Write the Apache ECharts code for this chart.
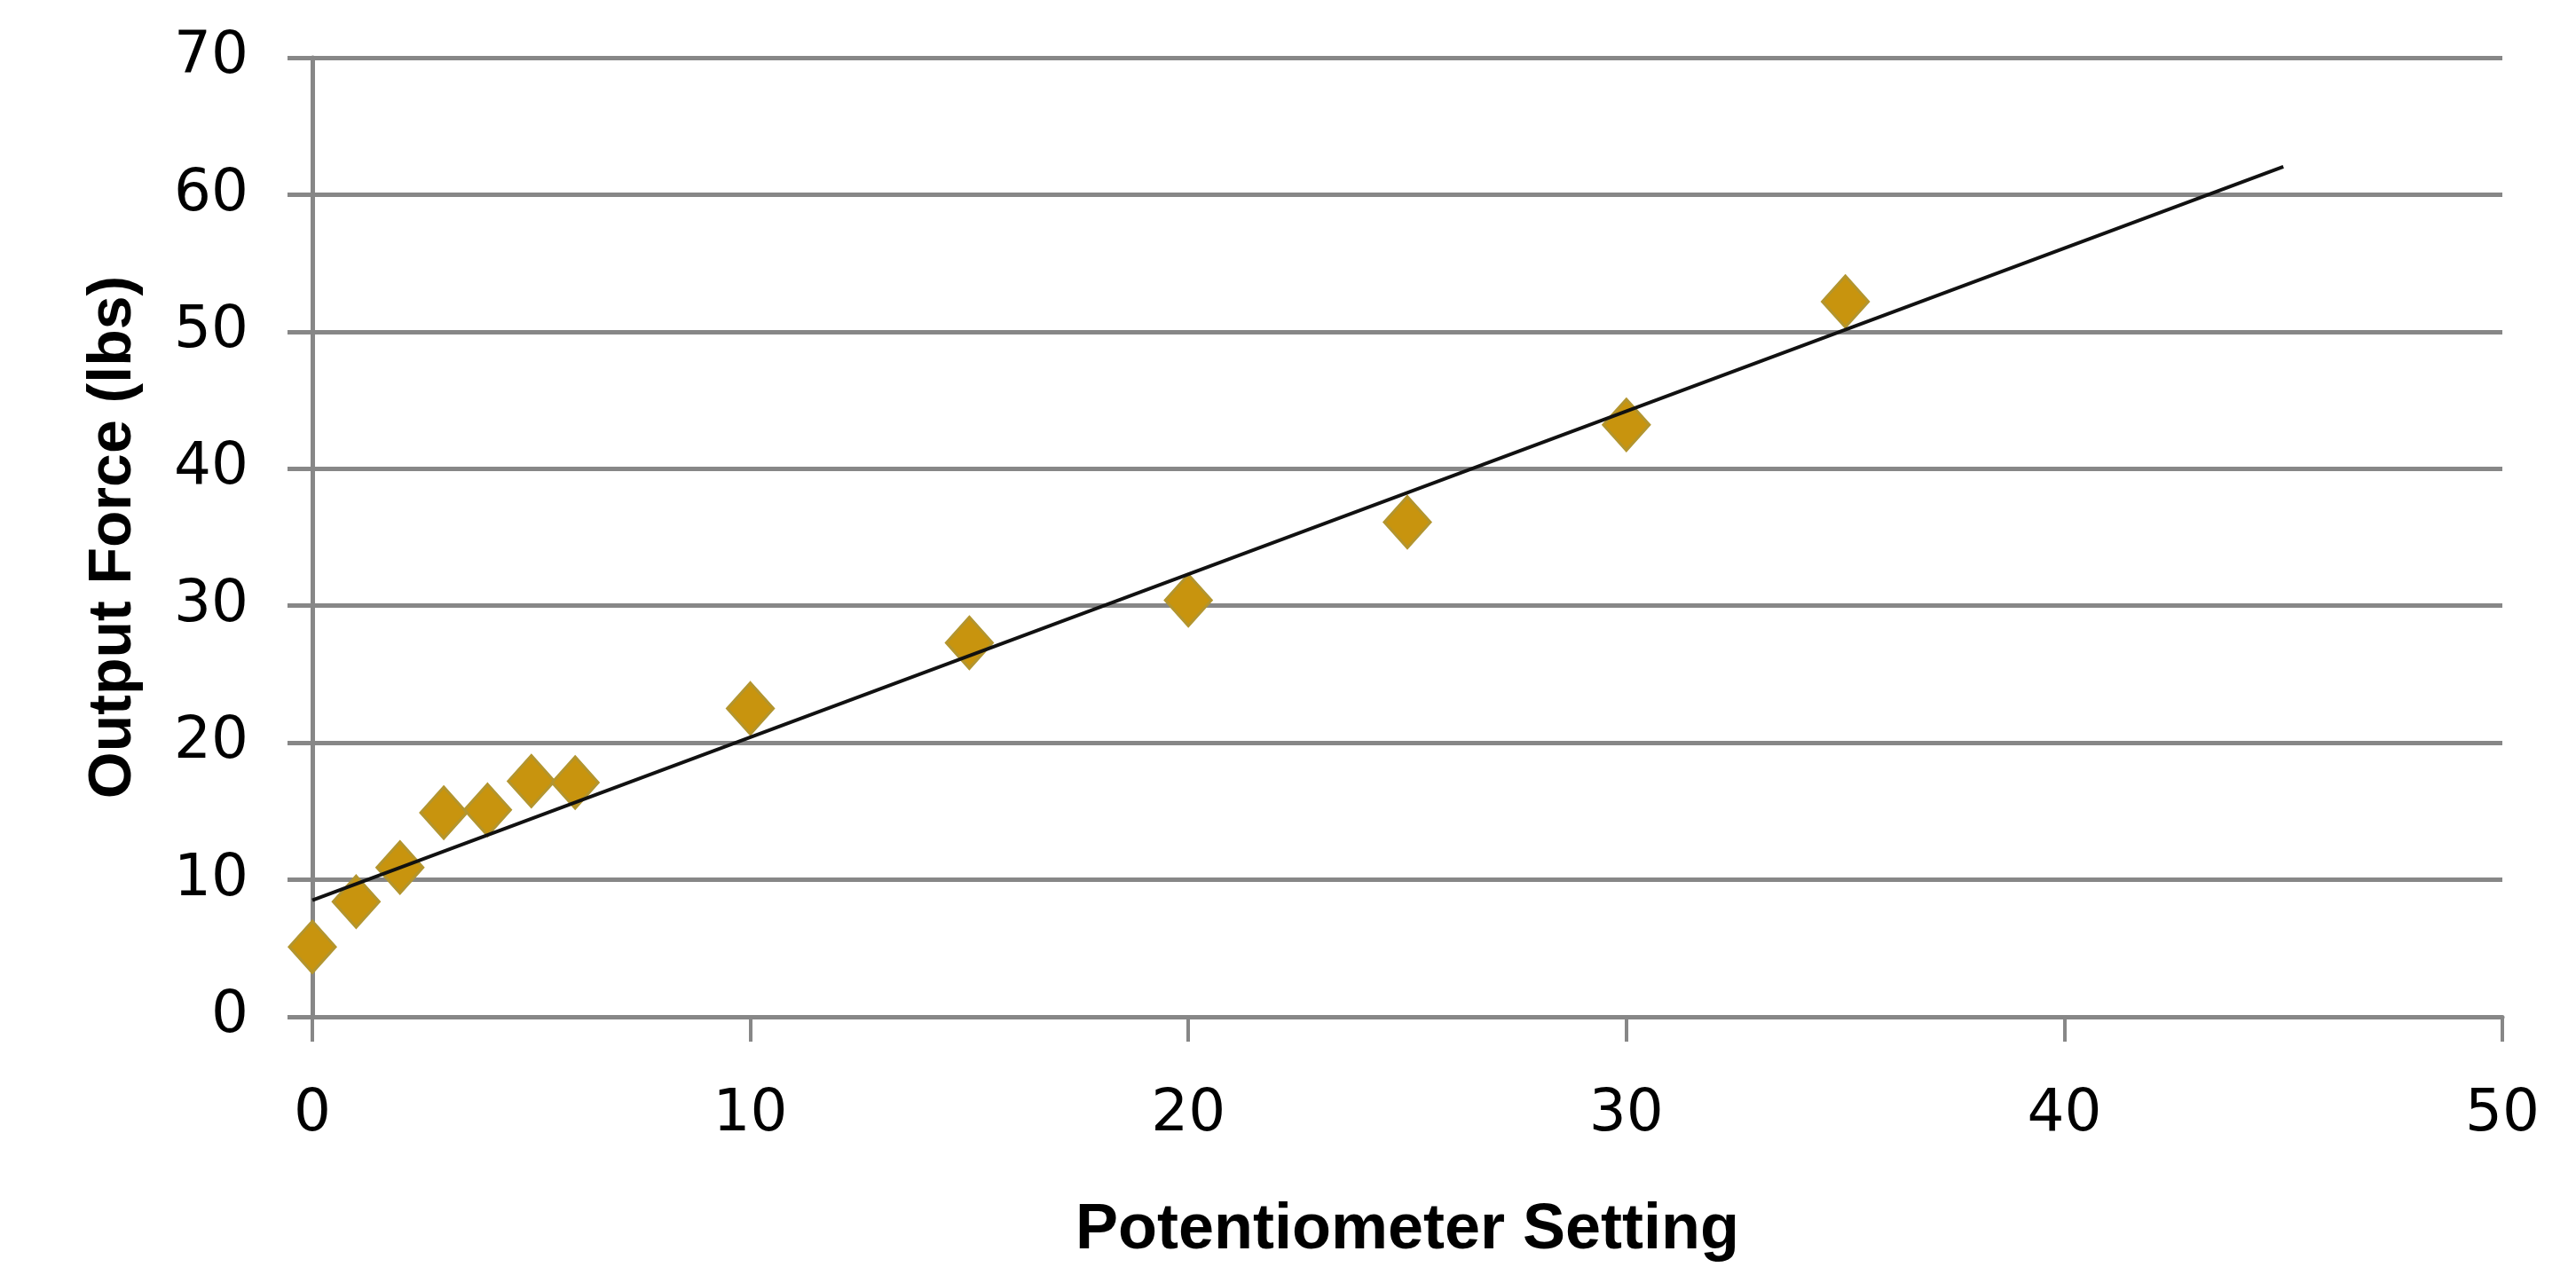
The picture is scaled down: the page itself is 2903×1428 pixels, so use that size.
<!DOCTYPE html>
<html>
<head>
<meta charset="utf-8">
<script src="https://cdn.jsdelivr.net/npm/echarts@6/dist/echarts.min.js"></script>
<style>
html,body{margin:0;padding:0;background:#fff;}
#chart{width:2903px;height:1428px;}
</style>
</head>
<body>
<div id="chart"></div>
<script>
// Data
const potSetting = [0, 1, 2, 3, 4, 5, 6, 10, 15, 20, 25, 30, 35];
const outputForce = [5.1, 8.4, 10.9, 14.9, 15.1, 17.2, 17.1, 22.5, 27.3, 30.4, 36.1, 43.2, 52.2];
// Linear trendline endpoints as drawn in the reference
const trendX = [0, 45];
const trendY = [8.5, 62.05];
const xTitle = 'Potentiometer Setting';
const yTitle = 'Output Force (lbs)';

const scatterData = potSetting.map((x, i) => [x, outputForce[i]]);
const trendData = trendX.map((x, i) => [x, trendY[i]]);

const gridGray = '#878787';
const chart = echarts.init(document.getElementById('chart'), null, {renderer: 'canvas'});
chart.setOption({
  animation: false,
  backgroundColor: '#ffffff',
  grid: {left: 352, right: 83, top: 65, bottom: 279, containLabel: false},
  xAxis: {
    type: 'value', min: 0, max: 50, interval: 10,
    name: xTitle, nameLocation: 'middle', nameGap: 205,
    nameTextStyle: {fontFamily: 'Liberation Sans', fontWeight: 'bold', fontSize: 72, color: '#000'},
    axisLine: {show: true, onZero: false, lineStyle: {color: gridGray, width: 5}},
    axisTick: {show: true, length: 28, inside: false, lineStyle: {color: gridGray, width: 4}},
    axisLabel: {margin: 78, fontFamily: 'DejaVu Sans', fontSize: 66, color: '#000'},
    splitLine: {show: false}
  },
  yAxis: {
    type: 'value', min: 0, max: 70, interval: 10,
    name: yTitle, nameLocation: 'middle', nameGap: 190,
    nameTextStyle: {fontFamily: 'Liberation Sans', fontWeight: 'bold', fontSize: 68, color: '#000'},
    axisLine: {show: true, lineStyle: {color: gridGray, width: 5}},
    axisTick: {show: true, length: 28, inside: false, lineStyle: {color: gridGray, width: 5}},
    axisLabel: {margin: 72, fontFamily: 'DejaVu Sans', fontSize: 66, color: '#000'},
    splitLine: {show: true, lineStyle: {color: gridGray, width: 5}}
  },
  series: [
    {
      type: 'line',
      data: trendData,
      symbol: 'none',
      lineStyle: {color: '#111111', width: 4},
      z: 3
    },
    {
      type: 'scatter',
      data: scatterData,
      symbol: 'diamond',
      symbolSize: [52, 58],
      itemStyle: {color: '#C8940E', borderColor: '#B3952E', borderWidth: 3, opacity: 1},
      z: 2
    }
  ]
});
</script>
</body>
</html>
